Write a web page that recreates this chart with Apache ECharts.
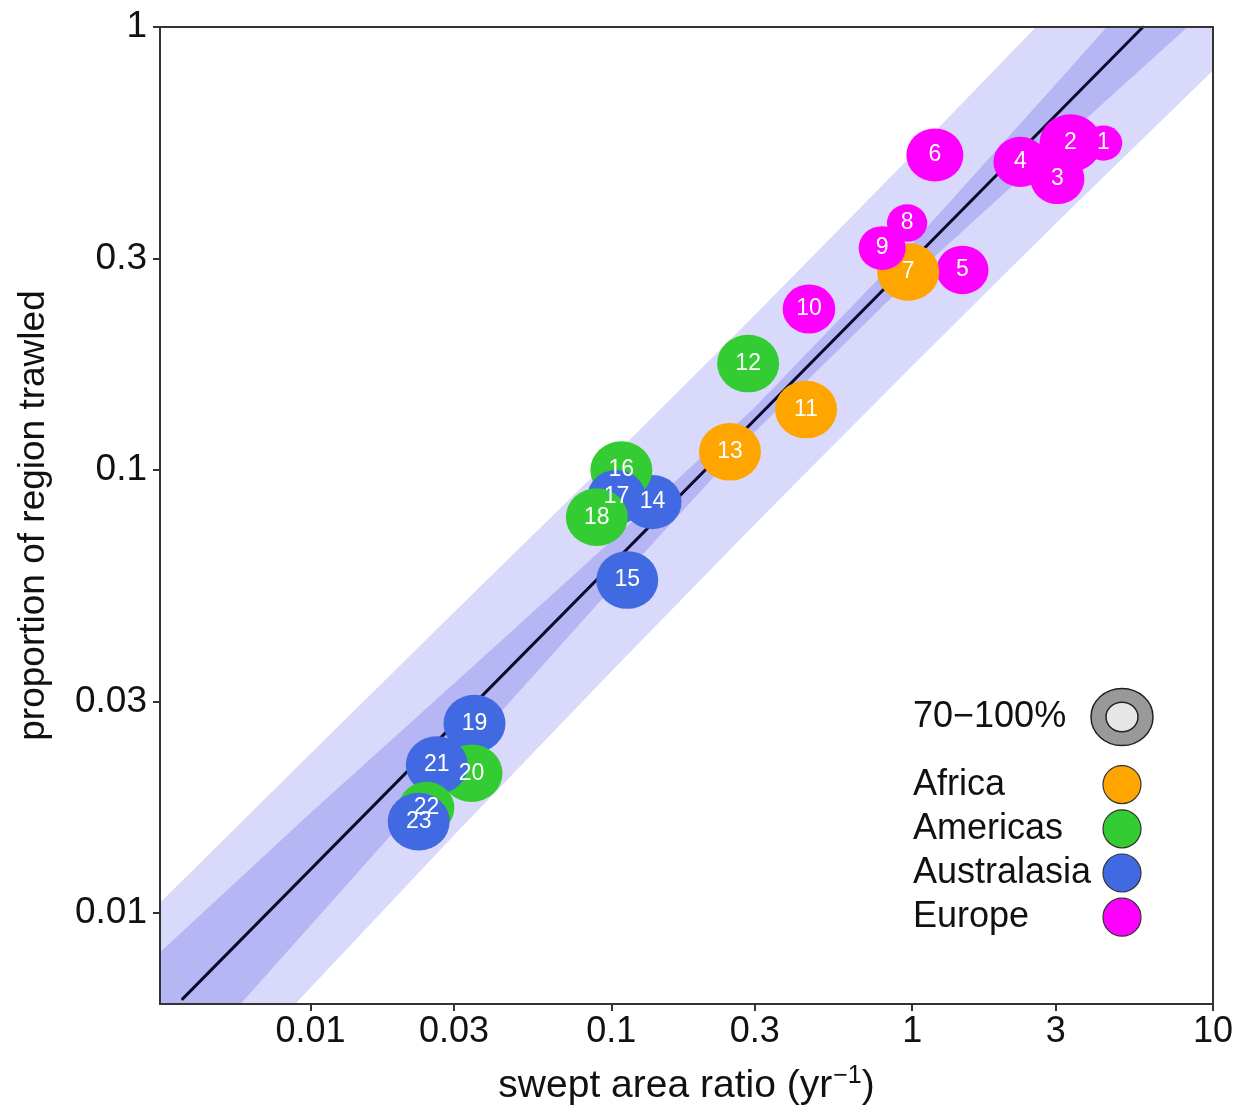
<!DOCTYPE html>
<html><head><meta charset="utf-8">
<script src="https://cdn.jsdelivr.net/npm/echarts@6/dist/echarts.min.js"></script>
<style>html,body{margin:0;padding:0;background:#fff}#c{width:1252px;height:1105px}</style>
</head><body><div id="c"></div>
<script>
// ---- data ----
const pointIds = ['1','2','3','4','5','6','7','8','9','10','11','12','13','14','15','16','17','18','19','20','21','22','23'];
const sweptArea = [4.32, 3.36, 3.04, 2.29, 1.47, 1.19, 0.97, 0.962, 0.795, 0.454, 0.444, 0.285, 0.248, 0.137, 0.113, 0.108, 0.104, 0.0895, 0.0351, 0.0343, 0.0263, 0.0243, 0.0229];
const propTrawled = [0.547, 0.547, 0.454, 0.496, 0.283, 0.514, 0.280, 0.361, 0.317, 0.231, 0.137, 0.174, 0.110, 0.0847, 0.0565, 0.100, 0.0869, 0.0783, 0.0268, 0.0207, 0.0216, 0.0173, 0.0161];
const pointRegion = ['Europe','Europe','Europe','Europe','Europe','Europe','Africa','Europe','Europe','Europe','Africa','Americas','Africa','Australasia','Australasia','Americas','Australasia','Americas','Australasia','Americas','Australasia','Americas','Australasia'];
const coverage = [61, 100, 87, 87, 84, 92, 100, 65, 76, 85, 100, 100, 100, 94, 100, 100, 94, 100, 100, 100, 100, 90, 100];
const regions = ['Africa','Americas','Australasia','Europe'];
const regionColors = ['#FFA500','#33CC33','#4169E1','#FF00FF'];
const sizeKeyLabel = '70\u2212100%';

const xTicks = [0.01, 0.03, 0.1, 0.3, 1, 3, 10];
const xTickLabels = ['0.01','0.03','0.1','0.3','1','3','10'];
const yTicks = [0.01, 0.03, 0.1, 0.3, 1];
const yTickLabels = ['0.01','0.03','0.1','0.3','1'];

const fitX = [0.00376, 5.85];
const fitY = [0.00641, 1.0];

const bandX   = [0.003,   0.01,    0.03,   0.1,    0.3,    1,      3,     10];
const innerLo = [0.00375, 0.00938, 0.0217, 0.0540, 0.1219, 0.2723, 0.538, 1.127];
const innerHi = [0.00790, 0.01683, 0.0330, 0.0692, 0.1387, 0.3243, 0.743, 1.854];
const outerLo = [0.00284, 0.00679, 0.0150, 0.0351, 0.0755, 0.1718, 0.360, 0.798];
const outerHi = [0.01020, 0.02290, 0.0478, 0.1064, 0.2239, 0.514,  1.112, 2.618];

// ---- chart ----
const FONT = '"Liberation Sans", Arial, sans-serif';
const chart = echarts.init(document.getElementById('c'), null, {renderer: 'canvas'});

function tickFmt(ticks, labels) {
  return function (v) {
    const i = ticks.findIndex(t => Math.abs(Math.log10(t) - Math.log10(v)) < 1e-6);
    return i >= 0 ? labels[i] : '';
  };
}

function bandSeries(name, lo, hi, color) {
  return {
    type: 'custom', name: name, silent: true, clip: true,
    data: bandX.map((x, i) => [x, lo[i], hi[i]]),
    encode: {x: 0, y: [1, 2]},
    renderItem: function (params, api) {
      if (params.dataIndex !== 0) return null;
      const pts = [];
      for (let i = 0; i < bandX.length; i++) pts.push(api.coord([bandX[i], hi[i]]));
      for (let i = bandX.length - 1; i >= 0; i--) pts.push(api.coord([bandX[i], lo[i]]));
      return {type: 'polygon', shape: {points: pts}, style: {fill: color, stroke: null}};
    },
    z: 1
  };
}

const scatterData = sweptArea.map((x, i) => ({
  value: [x, propTrawled[i]],
  itemStyle: {color: regionColors[regions.indexOf(pointRegion[i])], opacity: 1}
}));

const option = {
  animation: false,
  backgroundColor: '#fff',
  grid: {left: 160, right: 39, top: 27, bottom: 101, containLabel: false, outerBoundsMode: 'none'},
  xAxis: [{
    type: 'log', logBase: 10, min: 0.003162, max: 10, z: 10,
    axisLine: {show: true, lineStyle: {color: '#333', width: 2}},
    axisTick: {show: true, length: 7, customValues: xTicks, lineStyle: {color: '#333', width: 2}},
    axisLabel: {customValues: xTicks, formatter: tickFmt(xTicks, xTickLabels), fontSize: 36, color: '#111', fontFamily: FONT, margin: 10},
    splitLine: {show: false}, minorTick: {show: false},
    name: '{a|swept area ratio (yr}{s|\u22121}{a|)}',
    nameLocation: 'middle', nameGap: 60,
    nameTextStyle: {fontFamily: FONT, color: '#111', rich: {
      a: {fontSize: 39, fontFamily: FONT, color: '#111', lineHeight: 44},
      s: {fontSize: 25, fontFamily: FONT, color: '#111', verticalAlign: 'top', lineHeight: 26, padding: [0, 0, 0, 1]}
    }}
  }, {
    type: 'log', logBase: 10, min: 0.003162, max: 10, position: 'top', z: 10,
    axisLine: {show: true, lineStyle: {color: '#333', width: 2}},
    axisTick: {show: false}, axisLabel: {show: false}, splitLine: {show: false}
  }],
  yAxis: [{
    type: 'log', logBase: 10, min: 0.00624, max: 1, z: 10,
    axisLine: {show: true, lineStyle: {color: '#333', width: 2}},
    axisTick: {show: true, length: 7, customValues: yTicks, lineStyle: {color: '#333', width: 2}},
    axisLabel: {customValues: yTicks, formatter: tickFmt(yTicks, yTickLabels), fontSize: 37, color: '#111', fontFamily: FONT, margin: 13},
    splitLine: {show: false}, minorTick: {show: false},
    name: 'proportion of region trawled',
    nameLocation: 'middle', nameGap: 108,
    nameTextStyle: {fontSize: 37, fontFamily: FONT, color: '#111'}
  }, {
    type: 'log', logBase: 10, min: 0.00624, max: 1, position: 'right', z: 10,
    axisLine: {show: true, lineStyle: {color: '#333', width: 2}},
    axisTick: {show: false}, axisLabel: {show: false}, splitLine: {show: false}
  }],
  legend: {
    data: regions,
    orient: 'vertical', left: 908, top: 760,
    align: 'right', icon: 'circle',
    itemWidth: 42, itemHeight: 38, itemGap: 5,
    itemStyle: {borderColor: '#333', borderWidth: 1.2, opacity: 1},
    formatter: '{n|{name}}',
    textStyle: {fontSize: 36, color: '#111', fontFamily: FONT, rich: {n: {width: 183, fontSize: 36, color: '#111', fontFamily: FONT, align: 'left'}}},
    selectedMode: false
  },
  graphic: [
    {type: 'text', x: 913, y: 717, z: 100, style: {text: sizeKeyLabel, fontSize: 36, fontFamily: FONT, fill: '#111', verticalAlign: 'middle', align: 'left'}},
    {type: 'group', x: 1122, y: 717, scaleY: 0.92, z: 100, children: [
      {type: 'circle', shape: {cx: 0, cy: 0, r: 31}, style: {fill: '#999', stroke: '#222', lineWidth: 1.5}},
      {type: 'circle', shape: {cx: 0, cy: 0, r: 16}, style: {fill: '#e6e6e6', stroke: '#222', lineWidth: 1.5}}
    ]}
  ],
  series: [
    bandSeries('outer band', outerLo, outerHi, '#D9D9FC'),
    bandSeries('inner band', innerLo, innerHi, '#B6B6F4'),
    {
      type: 'line', name: 'fit', silent: true, symbol: 'none', clip: true,
      data: fitX.map((x, i) => [x, fitY[i]]),
      lineStyle: {color: '#0a0a2a', width: 3, cap: 'round'}, z: 3
    },
    {
      type: 'scatter', name: 'sites', silent: true, z: 4,
      data: scatterData,
      symbol: 'circle',
      itemStyle: {opacity: 1},
      symbolSize: function (val, params) { const d = coverage[params.dataIndex] * 0.62; return [d, d * 0.93]; },
      label: {show: true, position: 'inside', formatter: p => pointIds[p.dataIndex], color: '#fff', fontSize: 23, fontFamily: FONT},
      emphasis: {disabled: true}
    }
  ].concat(regions.map((r, i) => ({type: 'scatter', name: r, data: [], itemStyle: {color: regionColors[i], opacity: 1}})))
};
chart.setOption(option);
</script>
</body></html>
